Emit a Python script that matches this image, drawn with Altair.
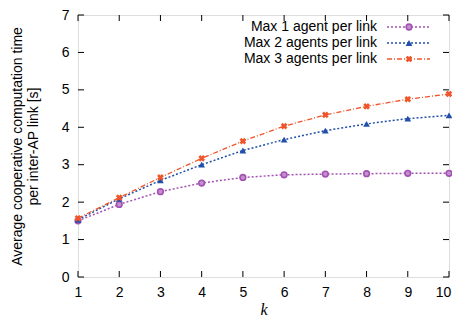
import altair as alt
import pandas as pd

k_values = [1, 2, 3, 4, 5, 6, 7, 8, 9, 10]
max1 = [1.50, 1.94, 2.28, 2.51, 2.66, 2.73, 2.75, 2.76, 2.77, 2.77]
max2 = [1.53, 2.09, 2.58, 3.00, 3.38, 3.67, 3.91, 4.09, 4.23, 4.32]
max3 = [1.57, 2.12, 2.66, 3.17, 3.63, 4.03, 4.33, 4.56, 4.75, 4.89]
series_names = ["Max 1 agent per link", "Max 2 agents per link", "Max 3 agents per link"]
x_ticks = [1, 2, 3, 4, 5, 6, 7, 8, 9, 10]
y_ticks = [0, 1, 2, 3, 4, 5, 6, 7]

colors = ["#a352b3", "#1f4fa8", "#f0552a"]
dashes = [[2, 2], [2, 2], [5, 2, 1, 2]]
W, H = 371, 262

xs = alt.Scale(domain=[1, 10], nice=False)
ys = alt.Scale(domain=[0, 7], nice=False)

x_axis = alt.Axis(values=x_ticks, ticks=False, domain=False, grid=False,
                  labelPadding=8, labelFontSize=14, titleFontSize=16,
                  titleFont="Liberation Serif", titleFontStyle="italic",
                  titleFontWeight="normal", titlePadding=2, labelFlush=False,
                  labelOverlap=False,
                  labelOffset={"condition": {"test": "datum.value == 10", "value": -6},
                               "value": 0})
y_axis = alt.Axis(values=y_ticks, ticks=False, domain=False, grid=False,
                  labelPadding=9, labelFontSize=14, titleFontSize=14,
                  titleFontWeight="normal", titlePadding=21, labelOverlap=False)
x_title = "k"
y_title = ["Average cooperative computation time", "per inter-AP link [s]"]


def X(field="k"):
    return alt.X(f"{field}:Q", scale=xs, axis=x_axis, title=x_title)


def Y(field="v"):
    return alt.Y(f"{field}:Q", scale=ys, axis=y_axis, title=y_title)


layers = []

xt = pd.DataFrame({"k": x_ticks})
yt = pd.DataFrame({"v": y_ticks})
layers.append(alt.Chart(xt).mark_rule(color="black", strokeWidth=1).encode(
    x=X(), y=alt.value(H - 6), y2=alt.value(H)))
layers.append(alt.Chart(xt).mark_rule(color="black", strokeWidth=1).encode(
    x=X(), y=alt.value(0), y2=alt.value(6)))
layers.append(alt.Chart(yt).mark_rule(color="black", strokeWidth=1).encode(
    y=Y(), x=alt.value(0), x2=alt.value(6)))
layers.append(alt.Chart(yt).mark_rule(color="black", strokeWidth=1).encode(
    y=Y(), x=alt.value(W - 6), x2=alt.value(W)))


def marker(data, i):
    if i == 0:
        return alt.Chart(data).mark_point(shape="circle", size=32, color=colors[i],
                                          fill="#c58fd0", filled=False, strokeWidth=1.6, opacity=1)
    if i == 1:
        return alt.Chart(data).mark_point(shape="triangle-up", size=45, color=colors[i],
                                          filled=True, opacity=1)
    return alt.Chart(data).mark_point(shape="cross", angle=45, size=45, color=colors[i],
                                      filled=True, opacity=1)


for i, (name, vals) in enumerate(zip(series_names, [max1, max2, max3])):
    df = pd.DataFrame({"k": k_values, "v": vals})
    layers.append(alt.Chart(df).mark_line(color=colors[i], strokeDash=dashes[i],
                                          strokeWidth=1.5 if i < 2 else 1.3).encode(
        x=X(), y=Y()))
    layers.append(marker(df, i).encode(x=X(), y=Y()))

    ldf = pd.DataFrame({"label": [name]})
    ly = 12 + 16 * i
    layers.append(alt.Chart(ldf).mark_text(align="right", baseline="middle", fontSize=14,
                                           color="black").encode(
        text="label:N", x=alt.value(299), y=alt.value(ly)))
    layers.append(alt.Chart(ldf).mark_rule(color=colors[i], strokeDash=dashes[i],
                                           strokeWidth=1.5 if i < 2 else 1.3).encode(
        x=alt.value(309), x2=alt.value(352), y=alt.value(ly)))
    layers.append(marker(ldf, i).encode(x=alt.value(331), y=alt.value(ly)))

chart = alt.layer(*layers).properties(
    width=W, height=H,
    autosize=alt.AutoSizeParams(type="none"),
    padding={"left": 70, "top": 7, "right": 3, "bottom": 39},
).configure_view(stroke="black", strokeWidth=1.2).configure(
    font="Liberation Sans", background="white"
)

chart.save("out.html", embed_options={"renderer": "svg", "actions": False})
